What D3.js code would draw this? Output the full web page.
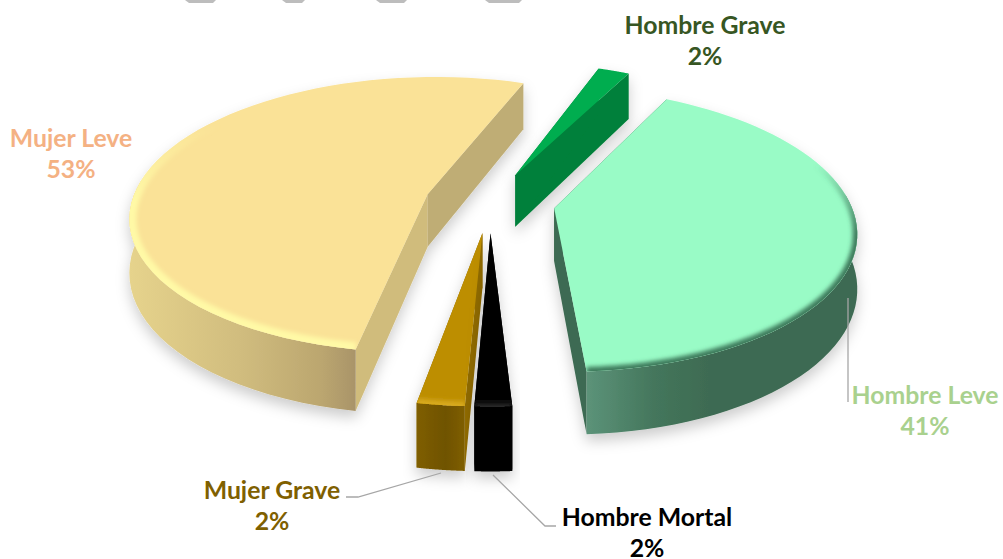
<!DOCTYPE html>
<html><head><meta charset="utf-8">
<script src="https://cdn.jsdelivr.net/npm/d3@7/dist/d3.min.js"></script>
<style>html,body{margin:0;padding:0;background:#fff}svg{display:block}text{font-family:Lato,"Open Sans",sans-serif;font-weight:700;font-size:24.8px;text-anchor:middle}</style>
</head><body><div id="c"></div>
<script>
const categories=["Hombre Grave","Hombre Leve","Hombre Mortal","Mujer Grave","Mujer Leve"];
const values=[2,41.49,1.67,2.14,52.7];
const percentLabels=["2%","41%","2%","2%","53%"];
const topColors=["#00AD50","#99FBC6","#000000","#BD8E00","#FAE297"];
const labelColors=["#375623","#A9D18E","#000000","#7F6000","#F4B183"];
const labelPos=[[705,34],[925,404],[647,526],[272,499],[71,147]];
const W=1003,H=559;
const svg=d3.select("#c").append("svg").attr("width",W).attr("height",H);
const defs=svg.append("defs");

const cx=490,cy=202,Rx=296,Ry=137,k=0.15,explode=0.22,h0=53;
const sx=d3.scaleLinear().domain([-1,1]).range([cx-Rx,cx+Rx]);
const sy=d3.scaleLinear().domain([-1,1]).range([cy-Ry,cy+Ry]);
const proj=(x,z,h=0)=>{const s=1/(1-k*z);return [sx(x*s),sy(z*s)+h*s];};
const line=d3.line();
const startDeg=20;
const pie=d3.pie().sort(null).startAngle(startDeg*Math.PI/180).endAngle(startDeg*Math.PI/180+2*Math.PI);
const arcs=pie(values);

const style=[
 {cutStart:"#00803A",cutEnd:"#00803A",outer:[["0","#00803A"],["1","#00803A"]]},
 {cutStart:"#3E6B52",cutEnd:"#3E6B52",outer:[["0","#5C9379"],["0.25","#44765C"],["0.45","#3E6B52"],["1","#3E6B52"]],bevel:"#3E7A5C",w:9,fade:[165,235]},
 {cutStart:"#000",cutEnd:"#000",outer:[["0","#000"],["1","#000"]],bevel:"#222",w:8,fade:[300,380]},
 {cutStart:"#8F6A00",cutEnd:"#8F6A00",outer:[["0","#7F5E00"],["0.6","#6F5300"],["1","#7F5E00"]],bevel:"#D8AA1E",w:9,fade:[300,380]},
 {cutStart:"#D0BC7C",cutEnd:"#BFAD74",outer:[["0","#E6D38C"],["0.5","#D0BC7E"],["0.85","#BBA66F"],["1","#A9946A"]],bevel:"#FFF9A6",w:14,fade:[125,200]}
];
defs.append("filter").attr("id","shadow").attr("x","-20%").attr("y","-20%").attr("width","140%").attr("height","150%")
  .append("feDropShadow").attr("dx",0).attr("dy",7).attr("stdDeviation",7).attr("flood-color","#000").attr("flood-opacity",0.2);
defs.append("filter").attr("id","soft").attr("filterUnits","userSpaceOnUse").attr("x",0).attr("y",0).attr("width",W).attr("height",H)
  .append("feGaussianBlur").attr("stdDeviation",2.2);

svg.append("g").attr("fill","#BDBDBD").selectAll("path")
  .data([[185,216],[282,305],[376,407],[485,522]]).join("path")
  .attr("d",d=>line([[d[0],0],[d[1],0],[d[1]-3,3],[d[0]+4,3]]));

const drawOrder=[0,4,1,3,2];
drawOrder.forEach(i=>{
  const a=arcs[i],st=style[i];
  const mid=(a.startAngle+a.endAngle)/2;
  const ox=explode*Math.sin(mid),oz=-explode*Math.cos(mid);
  const angs=d3.range(0,61).map(t=>a.startAngle+(a.endAngle-a.startAngle)*t/60);
  const rim=angs.map(t=>[ox+Math.sin(t),oz-Math.cos(t)]);
  const top=rim.map(p=>proj(p[0],p[1],0));
  const bot=rim.map(p=>proj(p[0],p[1],h0));
  const apexT=proj(ox,oz,0),apexB=proj(ox,oz,h0);
  const g=svg.append("g").attr("filter","url(#shadow)");
  // cut walls sit behind the outer wall where they overlap
  g.append("path").attr("d",line([apexT,top[60],bot[60],apexB])+"Z").attr("fill",st.cutEnd);
  g.append("path").attr("d",line([apexT,top[0],bot[0],apexB])+"Z").attr("fill",st.cutStart);
  // outer wall: only its part facing the viewer
  const vis=d3.range(0,61).filter(j=>Math.cos(angs[j])<0.1);
  if(vis.length>1){
    const tv=vis.map(j=>top[j]),bv=vis.map(j=>bot[j]);
    const ge=d3.extent(bv,p=>p[0]);
    const gid="wall"+i;
    defs.append("linearGradient").attr("id",gid).attr("gradientUnits","userSpaceOnUse")
      .attr("x1",ge[0]).attr("x2",ge[1]).attr("y1",0).attr("y2",0)
      .selectAll("stop").data(st.outer).join("stop")
      .attr("offset",d=>d[0]).attr("stop-color",d=>d[1]);
    g.append("path").attr("d",line(tv.concat(bv.slice().reverse()))+"Z").attr("fill","url(#"+gid+")");
  }
  const poly=[apexT].concat(top);
  g.append("path").attr("d",line(poly)+"Z").attr("fill",topColors[i]);
  if(st.bevel){
    const cid="clip"+i,bid="bevel"+i;
    defs.append("clipPath").attr("id",cid).append("path").attr("d",line(poly)+"Z");
    const bg=defs.append("linearGradient").attr("id",bid).attr("gradientUnits","userSpaceOnUse")
      .attr("x1",0).attr("x2",0).attr("y1",st.fade[0]).attr("y2",st.fade[1]);
    bg.append("stop").attr("offset",0).attr("stop-color",st.bevel).attr("stop-opacity",0);
    bg.append("stop").attr("offset",1).attr("stop-color",st.bevel).attr("stop-opacity",1);
    g.append("g").attr("clip-path","url(#"+cid+")").append("path")
      .attr("d",line(top)).attr("fill","none").attr("stroke","url(#"+bid+")")
      .attr("stroke-width",st.w).attr("filter","url(#soft)");
  }
});

const leaders=[[[346,497],[358,497],[441,473]],[[493,475],[545,526],[556,526]],[[848,298],[848,402]]];
svg.append("g").attr("fill","none").attr("stroke","#A6A6A6").attr("stroke-width",1.3)
  .selectAll("path").data(leaders).join("path").attr("d",d=>line(d));

const lab=svg.append("g").selectAll("text").data(categories).join("text")
  .attr("fill",(d,i)=>labelColors[i]);
lab.append("tspan").attr("x",(d,i)=>labelPos[i][0]).attr("y",(d,i)=>labelPos[i][1]).text(d=>d);
lab.append("tspan").attr("x",(d,i)=>labelPos[i][0]).attr("y",(d,i)=>labelPos[i][1]+31).text((d,i)=>percentLabels[i]);
</script></body></html>
